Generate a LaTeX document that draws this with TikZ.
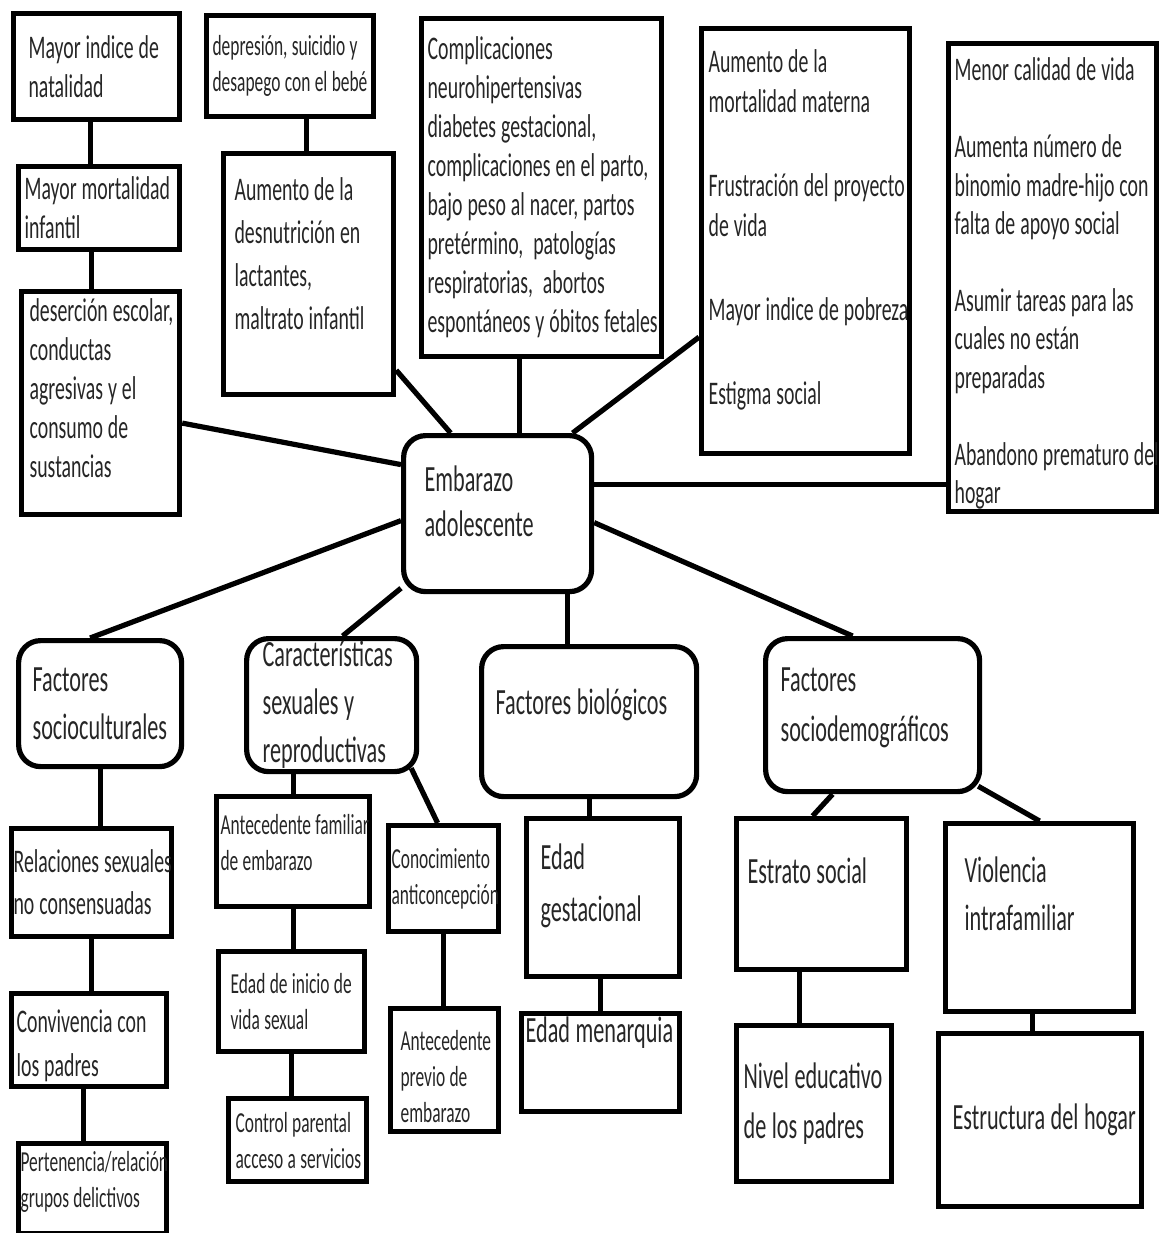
\documentclass[tikz,border=0pt]{standalone}
\usepackage{fontspec}
\setmainfont{Carlito}[FakeStretch=0.6]
\usetikzlibrary{positioning}

\tikzset{
  box/.style={draw, line width=2.6pt, anchor=north west, align=left,
              inner ysep=0pt, text=black!85,
              execute at begin node={\hyphenpenalty=10000\exhyphenpenalty=10000
                                     \spaceskip=.15em plus .05em\xspaceskip=.2em}},
  rbox/.style={box, rounded corners=11pt},
  lift/.style={execute at end node={\par\kern#1}},
  link/.style={line width=2.6pt},
  sm/.style={font=\fontsize{14.5}{18}\selectfont},
  md/.style={font=\fontsize{16.5}{19.5}\selectfont},
  lg/.style={font=\fontsize{18.5}{24}\selectfont}
}

\begin{document}
\begin{tikzpicture}[x=0.5pt, y=-0.5pt]
  \useasboundingbox (0,0) rectangle (1159,1233);

  % top row: consequences
  \node[box, md, minimum width=83pt, minimum height=53pt,
        text width=68pt, inner xsep=7.5pt] (nat) at (11,11)
    {Mayor indice de\\natalidad};
  \node[box, md, minimum width=80.5pt, minimum height=41.5pt,
        text width=74.5pt, inner xsep=3pt] (mort) at (16,164)
    {Mayor mortalidad\\infantil};
  \node[box, md, lift=15pt, minimum width=79pt, minimum height=111.5pt,
        text width=71pt, inner xsep=4pt] (des) at (19,289)
    {deserción~escolar,\\conductas\\agresivas y el\\consumo de\\sustancias};
  \node[box, sm, minimum width=83.5pt, minimum height=50.5pt,
        text width=77.5pt, inner xsep=3pt] (dep) at (204,13)
    {depresión,~suicidio~y\\desapego~con~el~bebé};
  \node[box, font=\fontsize{16.5}{21.5}\selectfont, lift=20pt, minimum width=85pt,
        minimum height=120.5pt, text width=74pt, inner xsep=5.5pt] (desn) at (221,151)
    {Aumento de la\\desnutrición en\\lactantes,\\maltrato infantil};
  \node[box, md, minimum width=120pt, minimum height=169pt,
        text width=114pt, inner xsep=3pt] (comp) at (419,16)
    {Complicaciones\\neurohipertensivas\\diabetes gestacional,\\
     complicaciones~en~el~parto,\\bajo~peso~al~nacer,~partos\\
     pretérmino,~~patologías\\respiratorias,~~abortos\\
     espontáneos~y~óbitos~fetales};
  \node[box, font=\fontsize{16.5}{20}\selectfont, lift=11pt, minimum width=104pt,
        minimum height=212.5pt, text width=97pt, inner xsep=3.5pt] (mat) at (699,26)
    {Aumento de la\\mortalidad~materna\\[22pt]Frustración~del~proyecto\\de vida\\[22pt]
     Mayor~indice~de~pobreza\\[22pt]Estigma social};
  \node[box, font=\fontsize{16.5}{19.3}\selectfont, lift=-6pt, minimum width=104pt,
        minimum height=234pt, text width=98pt, inner xsep=3pt] (cal) at (946,41)
    {Menor~calidad~de~vida\\[19pt]Aumenta número de\\binomio~madre-hijo~con\\
     falta~de~apoyo~social\\[19pt]Asumir~tareas~para~las\\cuales no están\\
     preparadas\\[19pt]Abandono~prematuro~del\\hogar};

  % centre
  \node[rbox, font=\fontsize{18.5}{22.5}\selectfont, lift=12pt, minimum width=94pt,
        minimum height=78pt, text width=73pt, inner xsep=10.5pt] (emb) at (401,433)
    {Embarazo\\adolescente};

  % factors
  \node[rbox, lg, minimum width=81.5pt, minimum height=63pt,
        text width=67.5pt, inner xsep=7pt] (socio) at (16,638)
    {Factores\\socioculturales};
  \node[rbox, lg, minimum width=85pt, minimum height=66.5pt,
        text width=69pt, inner xsep=8pt] (car) at (244,636)
    {Características\\sexuales y\\reproductivas};
  \node[rbox, lg, lift=17pt, minimum width=107.5pt, minimum height=75pt,
        text width=93.5pt, inner xsep=7pt] (bio) at (479,644)
    {Factores~biológicos};
  \node[rbox, font=\fontsize{18.5}{25}\selectfont, lift=7pt, minimum width=107pt,
        minimum height=76.5pt, text width=92pt, inner xsep=7.5pt] (sdem) at (763,636)
    {Factores\\sociodemográficos};

  % bottom items
  \node[box, font=\fontsize{16.5}{21}\selectfont, minimum width=80pt,
        minimum height=54pt, text width=78pt, inner xsep=1pt] (rel) at (9,826)
    {Relaciones~sexuales\\no~consensuadas};
  \node[box, font=\fontsize{16.5}{22}\selectfont, lift=-6pt, minimum width=77.5pt,
        minimum height=46.5pt, text width=72.5pt, inner xsep=2.5pt] (conv) at (9,991)
    {Convivencia~con\\los padres};
  \node[box, sm, lift=7pt, minimum width=74pt, minimum height=45pt,
        text width=72pt, inner xsep=1pt] (pert) at (16,1141)
    {Pertenencia/relación\\grupos~delictivos};
  \node[box, sm, lift=9pt, minimum width=76.5pt, minimum height=55pt,
        text width=72.5pt, inner xsep=2pt] (ant) at (214,794)
    {Antecedente~familiar\\de embarazo};
  \node[box, sm, minimum width=73pt, minimum height=50pt,
        text width=61pt, inner xsep=6pt] (edadin) at (216,949)
    {Edad~de~inicio~de\\vida sexual};
  \node[box, sm, minimum width=69pt, minimum height=41.5pt,
        text width=62pt, inner xsep=3.5pt] (ctrl) at (226,1096)
    {Control~parental\\acceso~a~servicios};
  \node[box, sm, minimum width=55pt, minimum height=53pt,
        text width=52pt, inner xsep=1.5pt] (con) at (386,823)
    {Conocimiento\\anticoncepción};
  \node[box, sm, lift=-6pt, minimum width=54pt, minimum height=61.5pt,
        text width=44pt, inner xsep=5pt] (antp) at (388,1006)
    {Antecedente\\previo de\\embarazo};
  \node[box, font=\fontsize{18.5}{26}\selectfont, lift=12pt, minimum width=76.5pt,
        minimum height=79pt, text width=62.5pt, inner xsep=7pt] (edg) at (524,816)
    {Edad\\gestacional};
  \node[box, lg, lift=30pt, minimum width=79pt, minimum height=49pt,
        text width=75pt, inner xsep=2pt] (edm) at (519,1011)
    {Edad~menarquia};
  \node[box, lg, lift=23pt, minimum width=85pt, minimum height=75.5pt,
        text width=74pt, inner xsep=5.5pt] (est) at (734,816)
    {Estrato~social};
  \node[box, lg, lift=24pt, minimum width=94pt, minimum height=94pt,
        text width=75pt, inner xsep=9.5pt] (viol) at (943,821)
    {Violencia\\intrafamiliar};
  \node[box, font=\fontsize{18.5}{25}\selectfont, minimum width=77.5pt,
        minimum height=78pt, text width=70.5pt, inner xsep=3.5pt] (niv) at (734,1023)
    {Nivel~educativo\\de~los~padres};
  \node[box, lg, minimum width=101.5pt, minimum height=86.5pt,
        text width=87.5pt, inner xsep=7pt] (estr) at (936,1031)
    {Estructura~del~hogar};

  % connectors, top half
  \draw[link] ([xshift=-3pt]nat.south) -- ([xshift=-3pt]nat.south |- mort.north);
  \draw[link] ([xshift=-4pt]mort.south) -- ([xshift=-4pt]mort.south |- des.north);
  \draw[link] ([xshift=8pt]dep.south) -- ([xshift=8pt]dep.south |- desn.north);
  \draw[link] ([xshift=-11pt]comp.south) -- ([xshift=-11pt]comp.south |- emb.north);
  \draw[link] ([yshift=-10pt]des.east) -- ([yshift=24.5pt]emb.west);
  \draw[link] ([yshift=13.5pt]desn.south east) -- ([xshift=-23.5pt]emb.north);
  \draw[link] ([yshift=-48pt]mat.west) -- ([xshift=37.5pt]emb.north);
  \draw[link] ([yshift=14.5pt]emb.east) -- ([yshift=14.5pt]emb.east -| cal.west);

  % connectors, bottom half
  \draw[link] ([yshift=-3.5pt]emb.west) -- ([xshift=-5pt]socio.north);
  \draw[link] ([yshift=3pt]emb.south west) -- ([xshift=5.5pt]car.north);
  \draw[link] ([xshift=35pt]emb.south) -- ([xshift=35pt]emb.south |- bio.north);
  \draw[link] ([yshift=-4.5pt]emb.east) -- ([xshift=-10pt]sdem.north);
  \draw[link] (socio.south) -- (socio.south |- rel.north);
  \draw[link] (rel.south) -- (rel.south |- conv.north);
  \draw[link] ([xshift=-3pt]conv.south) -- ([xshift=-3pt]conv.south |- pert.north);
  \draw[link] (ant.north) -- (ant.north |- car.south);
  \draw[link] (ant.south) -- (ant.south |- edadin.north);
  \draw[link] (edadin.south) -- (edadin.south |- ctrl.north);
  \draw[link] ([xshift=-4pt,yshift=3pt]car.south east) -- ([xshift=-3pt]con.north);
  \draw[link] (con.south) -- (con.south |- antp.north);
  \draw[link] (bio.south) -- (bio.south |- edg.north);
  \draw[link] (edm.north) -- (edm.north |- edg.south);
  \draw[link] ([xshift=-20pt]sdem.south) -- ([xshift=-4.5pt]est.north);
  \draw[link] ([xshift=-2pt,yshift=4pt]sdem.south east) -- (viol.north);
  \draw[link] ([xshift=-11pt]est.south) -- ([xshift=-11pt]est.south |- niv.north);
  \draw[link] ([xshift=-3.5pt]viol.south) -- ([xshift=-3.5pt]viol.south |- estr.north);
\end{tikzpicture}
\end{document}
